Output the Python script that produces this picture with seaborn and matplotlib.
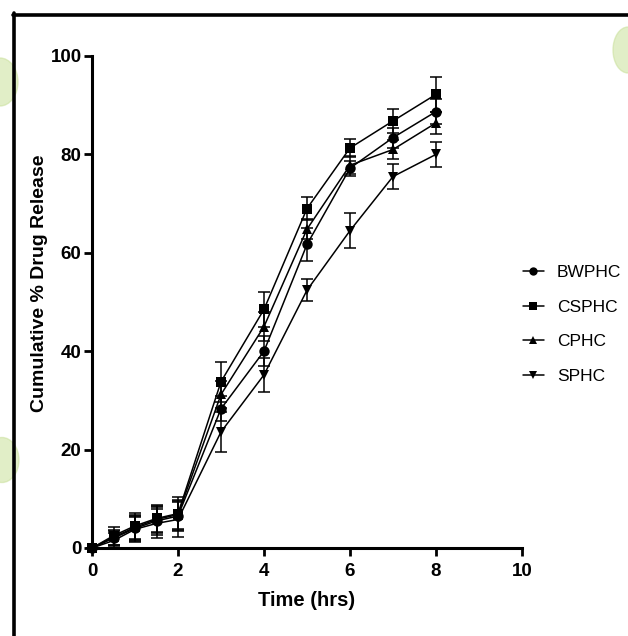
import numpy as np
import pandas as pd
import seaborn as sns
import matplotlib.pyplot as plt
from matplotlib.lines import Line2D
from matplotlib.patches import Ellipse

# release data
time_hrs = [0, 0.5, 1, 1.5, 2, 3, 4, 5, 6, 7, 8]
formulations = ['BWPHC', 'CSPHC', 'CPHC', 'SPHC']

bwphc = [0, 2.0, 4.0, 5.5, 6.5, 28.3, 40.0, 61.7, 77.2, 83.4, 88.7]
csphc = [0, 2.5, 4.5, 6.0, 7.0, 33.8, 48.5, 69.0, 81.3, 86.8, 92.2]
cphc = [0, 2.2, 4.2, 5.8, 6.8, 31.2, 45.0, 64.8, 77.8, 81.0, 86.4]
sphc = [0, 1.5, 3.8, 5.0, 5.8, 23.6, 35.2, 52.4, 64.5, 75.5, 80.0]

bwphc_sd = [0, 1.5, 2.5, 2.8, 3.0, 2.5, 3.0, 3.3, 1.5, 2.0, 2.5]
csphc_sd = [0, 1.8, 2.7, 2.8, 3.4, 4.1, 3.5, 2.4, 1.9, 2.5, 3.5]
cphc_sd = [0, 1.5, 2.5, 2.8, 3.0, 2.8, 3.0, 2.0, 1.8, 2.0, 2.2]
sphc_sd = [0, 1.5, 2.5, 3.0, 3.5, 4.0, 3.4, 2.2, 3.5, 2.6, 2.6]

x_ticks = [0, 2, 4, 6, 8, 10]
y_ticks = [0, 20, 40, 60, 80, 100]

series = {'BWPHC': (bwphc, bwphc_sd), 'CSPHC': (csphc, csphc_sd),
          'CPHC': (cphc, cphc_sd), 'SPHC': (sphc, sphc_sd)}
rows = []
for name, (vals, sds) in series.items():
    for t, v, s in zip(time_hrs, vals, sds):
        rows.append({'time': t, 'release': v, 'sd': s, 'formulation': name})
df = pd.DataFrame(rows)

sns.set_style('ticks')
plt.rcParams['font.family'] = ['Liberation Sans', 'DejaVu Sans']
plt.rcParams['text.color'] = 'black'
plt.rcParams['axes.labelcolor'] = 'black'

fig = plt.figure(figsize=(6.28, 6.36), dpi=100)
W, H = 628, 636

# faint watermark shapes behind everything
for cx, cy, w, h in [(0, 82, 36, 48), (2, 460, 34, 45), (628, 50, 30, 46)]:
    fig.patches.append(Ellipse((cx / W, 1 - cy / H), w / W, h / H,
                               transform=fig.transFigure, color='#c9e09a',
                               alpha=0.55, zorder=0))

# frame lines (left and top only)
fig.add_artist(Line2D([14.5 / W, 14.5 / W], [0, 1 - 13 / H], color='black', lw=2.6))
fig.add_artist(Line2D([12.8 / W, 1], [1 - 15 / H, 1 - 15 / H], color='black', lw=2.6))

ax = fig.add_axes([92 / W, 1 - 548 / H, 430 / W, 492 / H])
ax.patch.set_alpha(0)

markers = {'BWPHC': 'o', 'CSPHC': 's', 'CPHC': '^', 'SPHC': 'v'}
for name in formulations:
    sub = df[df.formulation == name]
    ax.errorbar(sub.time, sub.release, yerr=sub.sd, fmt='none', ecolor='black',
                elinewidth=1.1, capsize=4, capthick=1.1, clip_on=False, zorder=2)

sns.lineplot(data=df, x='time', y='release', hue='formulation', style='formulation',
             hue_order=formulations, style_order=formulations,
             palette=['black'] * 4, markers=markers, dashes=False,
             markersize=7.5, markeredgewidth=0, linewidth=1.1, ax=ax, zorder=3,
             clip_on=False)

ax.set_xlim(0, 10)
ax.set_ylim(0, 100)
ax.set_xticks(x_ticks)
ax.set_yticks(y_ticks)
sns.despine(ax=ax)
for sp in ['left', 'bottom']:
    ax.spines[sp].set_linewidth(2.2)
    ax.spines[sp].set_color('black')
ax.tick_params(axis='both', direction='out', length=6, width=2.0,
               labelsize=13.5, colors='black')
ax.tick_params(axis='x', pad=5)
ax.tick_params(axis='y', pad=1.5)
for lab in ax.get_xticklabels() + ax.get_yticklabels():
    lab.set_fontweight('bold')

ax.set_xlabel('Time (hrs)', fontsize=14.5, fontweight='bold', va='top')
ax.xaxis.set_label_coords(0.5, -0.087)
ax.set_ylabel('Cumulative % Drug Release', fontsize=14, fontweight='bold', va='center')
ax.yaxis.set_label_coords(-0.121, 0.539)

handles, labels = ax.get_legend_handles_labels()
leg = ax.legend(handles, labels, loc='upper left',
                bbox_to_anchor=(523 / W, 1 - 265 / H), bbox_transform=fig.transFigure,
                frameon=False, fontsize=12.5, handlelength=1.2, handletextpad=0.75,
                labelspacing=1.12, borderpad=0, borderaxespad=0)
for h in leg.legend_handles:
    h.set_markersize(6)

fig.savefig('out.png', dpi=100, facecolor='white')
